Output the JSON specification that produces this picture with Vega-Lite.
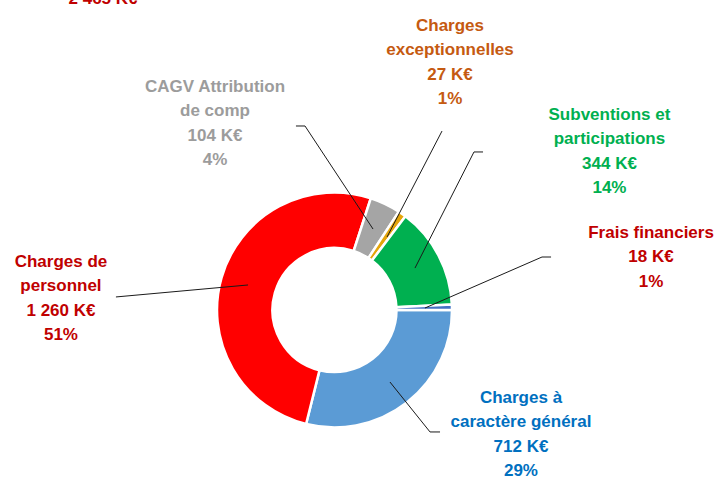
{
  "$schema": "https://vega.github.io/schema/vega-lite/v6.json",
  "width": 717,
  "height": 480,
  "autosize": {"type": "none"},
  "padding": 0,
  "config": {"view": {"stroke": null}},
  "datasets": {
    "slices": [
      {"cat": "Charges à caractère général", "value": 712, "order": 1},
      {"cat": "Charges de personnel", "value": 1260, "order": 2},
      {"cat": "CAGV Attribution de comp", "value": 104, "order": 3},
      {"cat": "Charges exceptionnelles", "value": 27, "order": 4},
      {"cat": "Subventions et participations", "value": 344, "order": 5},
      {"cat": "Frais financiers", "value": 18, "order": 6}
    ],
    "labels": [
      {"cat": "Total", "text": "2 465 K€", "u": -1.97, "v": 2.645},
      {"cat": "CAGV Attribution de comp", "text": "CAGV Attribution\nde comp\n104 K€\n4%", "u": -1.017, "v": 1.898},
      {"cat": "Charges exceptionnelles", "text": "Charges\nexceptionnelles\n27 K€\n1%", "u": 0.983, "v": 2.417},
      {"cat": "Subventions et participations", "text": "Subventions et\nparticipations\n344 K€\n14%", "u": 2.34, "v": 1.66},
      {"cat": "Frais financiers", "text": "Frais financiers\n18 K€\n1%", "u": 2.694, "v": 0.655},
      {"cat": "Charges de personnel", "text": "Charges de\npersonnel\n1 260 K€\n51%", "u": -2.328, "v": 0.409},
      {"cat": "Charges à caractère général", "text": "Charges à\ncaractère général\n712 K€\n29%", "u": 1.587, "v": -0.749}
    ],
    "leaders": [
      {"cat": "CAGV", "u1": -0.328, "v1": 1.566, "u2": -0.251, "v2": 1.566},
      {"cat": "CAGV", "u1": -0.251, "v1": 1.566, "u2": 0.328, "v2": 0.689},
      {"cat": "Exceptionnelles", "u1": 0.915, "v1": 1.523, "u2": 0.447, "v2": 0.621},
      {"cat": "Subventions", "u1": 1.264, "v1": 1.345, "u2": 1.187, "v2": 1.345},
      {"cat": "Subventions", "u1": 1.187, "v1": 1.345, "u2": 0.685, "v2": 0.357},
      {"cat": "Frais", "u1": 1.843, "v1": 0.451, "u2": 1.766, "v2": 0.451},
      {"cat": "Frais", "u1": 1.766, "v1": 0.451, "u2": 0.77, "v2": 0.017},
      {"cat": "Personnel", "u1": -1.86, "v1": 0.111, "u2": -0.736, "v2": 0.213},
      {"cat": "Général", "u1": 0.472, "v1": -0.613, "u2": 0.813, "v2": -1.038},
      {"cat": "Général", "u1": 0.813, "v1": -1.038, "u2": 0.898, "v2": -1.038}
    ]
  },
  "layer": [
    {
      "data": {"name": "slices"},
      "mark": {"type": "arc", "outerRadius": 117.5, "innerRadius": 62, "stroke": "white", "strokeWidth": 2.5},
      "encoding": {
        "x": {"datum": 0, "type": "quantitative", "scale": {"domain": [-2.8468, 3.2553], "nice": false, "zero": false}, "axis": null},
        "y": {"datum": 0, "type": "quantitative", "scale": {"domain": [-1.4468, 2.6383], "nice": false, "zero": false}, "axis": null},
        "theta": {"field": "value", "type": "quantitative", "stack": true, "scale": {"range": [1.5708, 7.854]}},
        "order": {"field": "order", "type": "quantitative"},
        "color": {
          "field": "cat", "type": "nominal", "legend": null,
          "scale": {
            "domain": ["Charges à caractère général", "Charges de personnel", "CAGV Attribution de comp", "Charges exceptionnelles", "Subventions et participations", "Frais financiers"],
            "range": ["#5B9BD5", "#FF0000", "#A5A5A5", "#E5A50A", "#00B050", "#4472C4"]
          }
        }
      }
    },
    {
      "data": {"name": "leaders"},
      "mark": {"type": "rule", "color": "#1a1a1a", "strokeWidth": 1},
      "encoding": {
        "x": {"field": "u1", "type": "quantitative", "axis": null},
        "y": {"field": "v1", "type": "quantitative", "axis": null},
        "x2": {"field": "u2"},
        "y2": {"field": "v2"}
      }
    },
    {
      "data": {"name": "labels"},
      "mark": {"type": "text", "font": "Liberation Sans", "fontWeight": "bold", "fontSize": 17, "lineHeight": 24.3, "lineBreak": "\n", "align": "center", "baseline": "middle"},
      "encoding": {
        "x": {"field": "u", "type": "quantitative", "axis": null},
        "y": {"field": "v", "type": "quantitative", "axis": null},
        "text": {"field": "text", "type": "nominal"},
        "color": {
          "field": "cat", "type": "nominal", "legend": null,
          "scale": {
            "domain": ["Total", "CAGV Attribution de comp", "Charges exceptionnelles", "Subventions et participations", "Frais financiers", "Charges de personnel", "Charges à caractère général"],
            "range": ["#C00000", "#9C9C9C", "#C55A11", "#00B050", "#C00000", "#C00000", "#0070C0"]
          }
        }
      }
    }
  ],
  "resolve": {"scale": {"color": "independent"}}
}
